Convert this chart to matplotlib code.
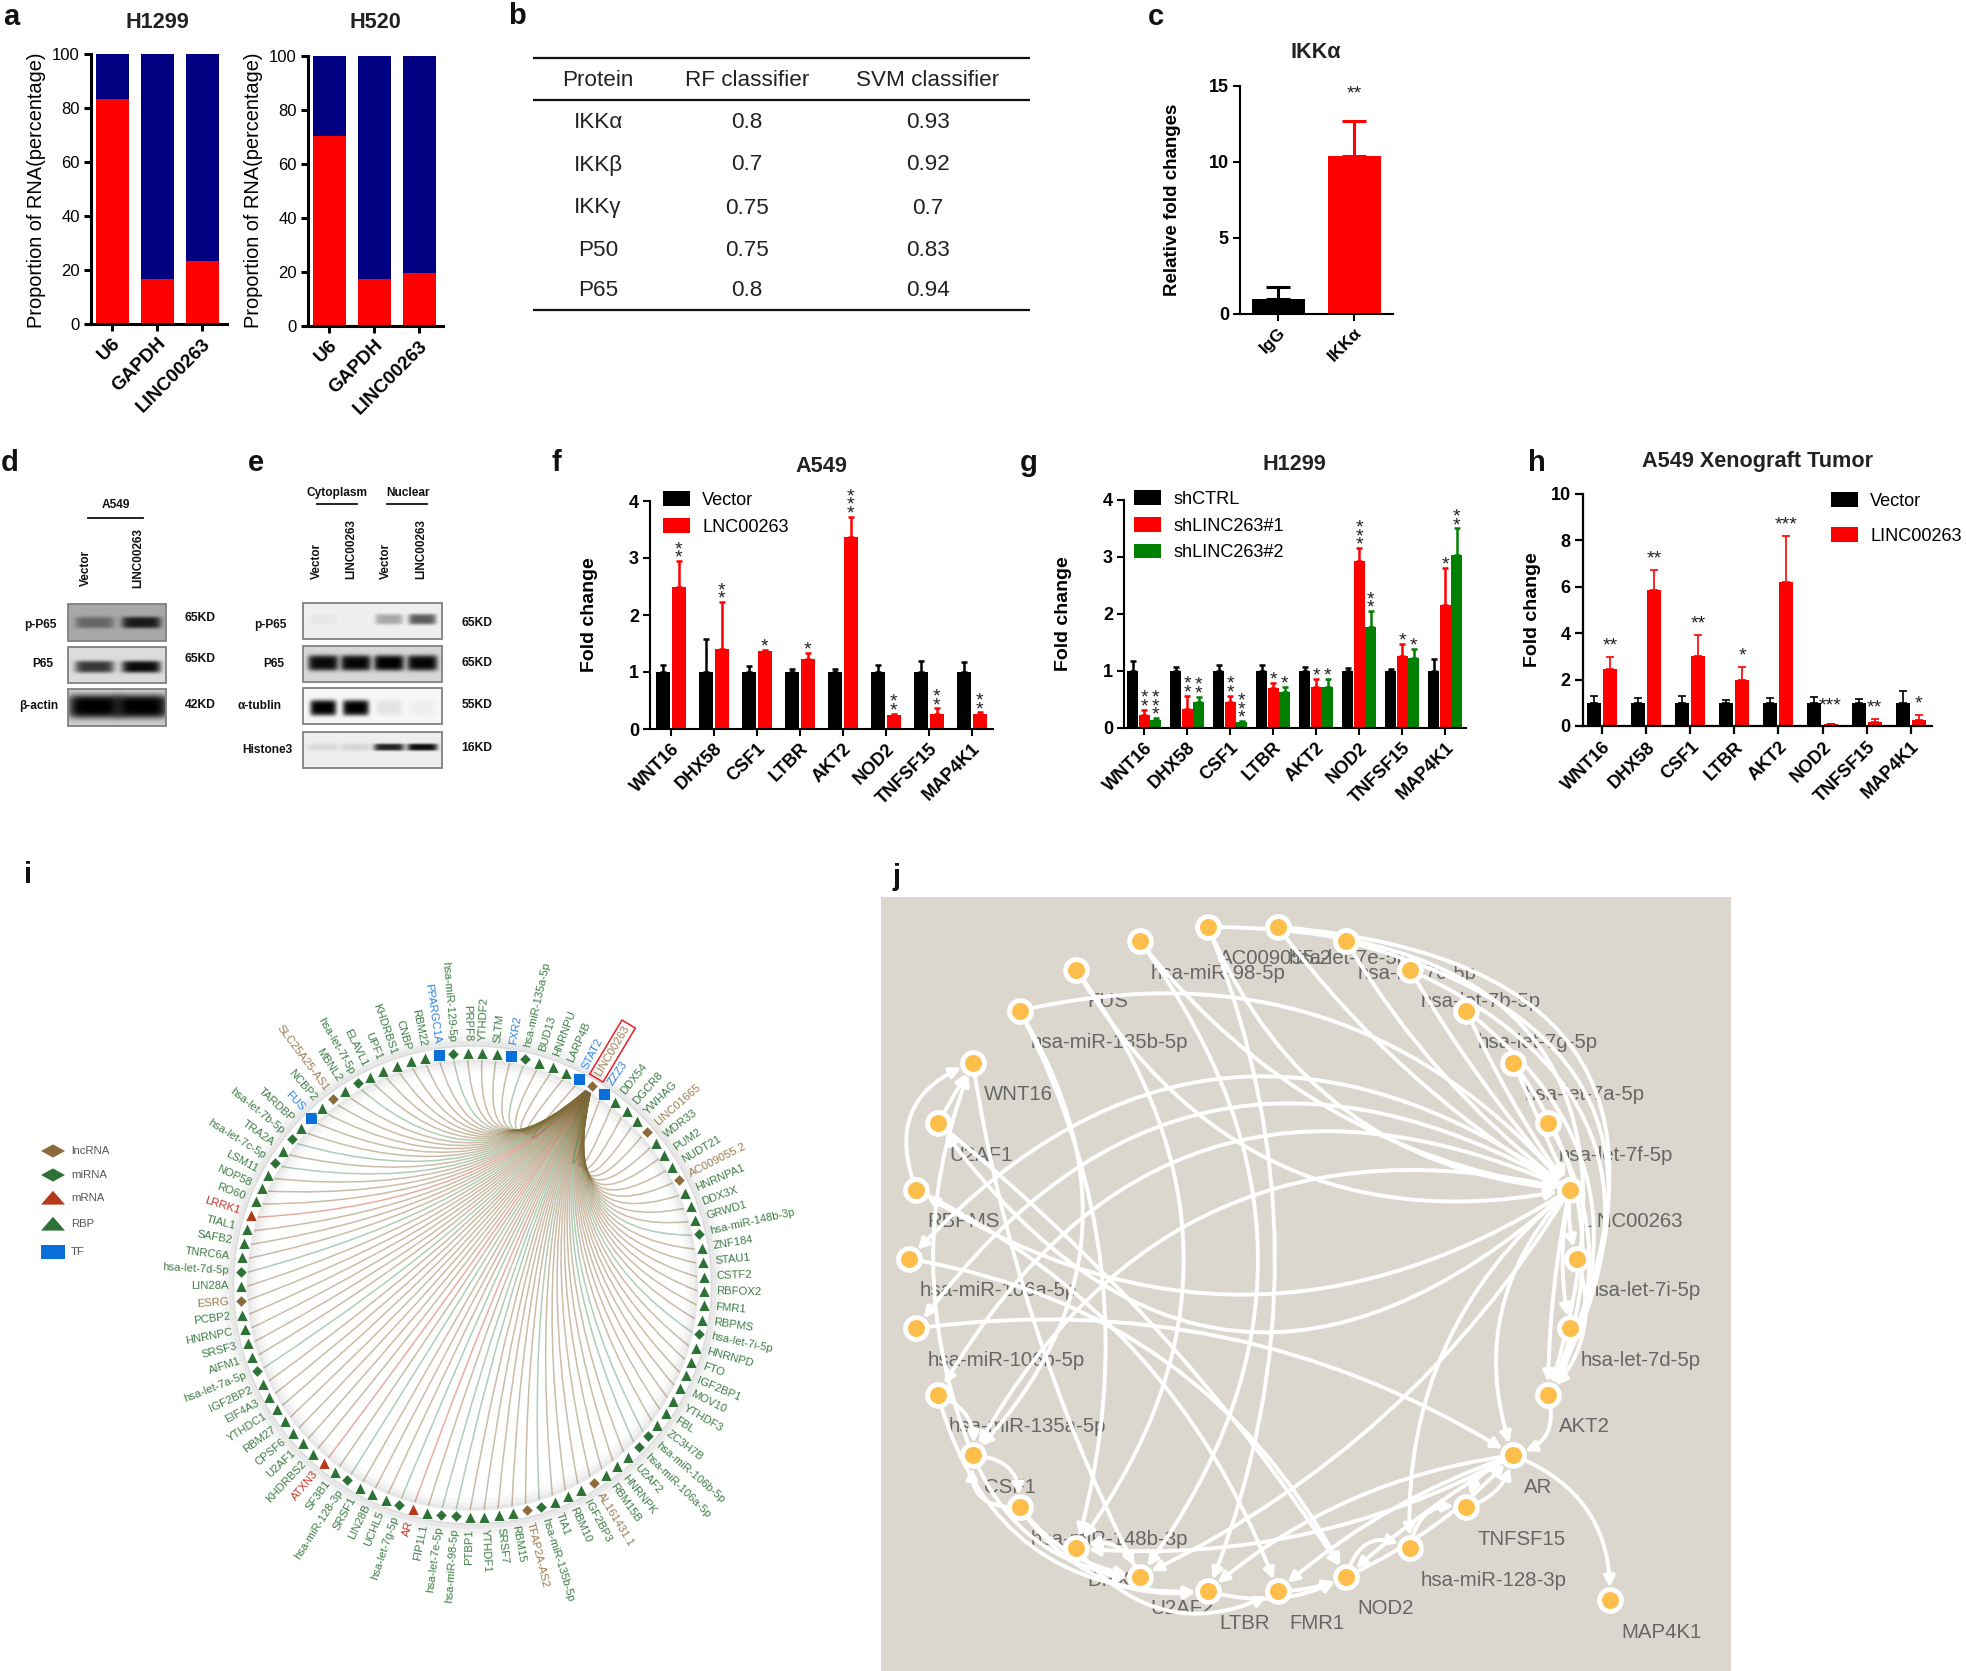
import numpy as np
import matplotlib
matplotlib.use('Agg')
import matplotlib.pyplot as plt
from matplotlib.path import Path
from matplotlib.patches import PathPatch, FancyArrowPatch, Circle, Rectangle

plt.rcParams['font.family'] = ['Liberation Sans', 'DejaVu Sans']

W, H = 1966, 1671

# panel a
a_cats = ['U6', 'GAPDH', 'LINC00263']
a_h1299 = [83.5, 16.5, 23.5]
a_h520 = [70.5, 17.5, 19.5]

# panel b
b_cols = ['Protein', 'RF classifier', 'SVM classifier']
b_protein = ['IKKα', 'IKKβ', 'IKKγ', 'P50', 'P65']
b_rf = ['0.8', '0.7', '0.75', '0.75', '0.8']
b_svm = ['0.93', '0.92', '0.7', '0.83', '0.94']

# panel c
c_cats = ['IgG', 'IKKα']
c_vals = [1.0, 10.4]
c_tops = [1.8, 12.7]

# blots, band strength per lane
d_pp65 = [0.4, 0.85]
d_p65 = [0.75, 0.95]
d_actin = [1.0, 1.0]
e_pp65 = [0.04, 0.01, 0.3, 0.62]
e_p65 = [0.95, 0.97, 1.0, 0.97]
e_tub = [1.0, 1.0, 0.08, 0.04]
e_h3 = [0.08, 0.1, 0.85, 0.95]

# panels f g h
genes = ['WNT16', 'DHX58', 'CSF1', 'LTBR', 'AKT2', 'NOD2', 'TNFSF15', 'MAP4K1']
f_vec = [1, 1, 1, 1, 1, 1, 1, 1]
f_vec_top = [1.13, 1.58, 1.1, 1.06, 1.06, 1.13, 1.19, 1.17]
f_lnc = [2.5, 1.4, 1.36, 1.22, 3.37, 0.24, 0.27, 0.26]
f_lnc_top = [2.94, 2.22, 1.38, 1.33, 3.72, 0.27, 0.36, 0.29]
f_stars = [2, 2, 1, 1, 3, 2, 2, 2]

g_ctl = [1, 1, 1, 1, 1, 1, 1, 1]
g_ctl_top = [1.17, 1.07, 1.11, 1.1, 1.07, 1.05, 1.03, 1.21]
g_sh1 = [0.23, 0.33, 0.46, 0.7, 0.72, 2.93, 1.26, 2.15]
g_sh1_top = [0.32, 0.57, 0.57, 0.79, 0.86, 3.15, 1.48, 2.8]
g_sh2 = [0.14, 0.46, 0.1, 0.64, 0.72, 1.78, 1.22, 3.03]
g_sh2_top = [0.17, 0.55, 0.12, 0.72, 0.86, 2.05, 1.39, 3.5]
g_stars1 = [2, 2, 2, 1, 1, 3, 1, 1]
g_stars2 = [3, 2, 3, 1, 1, 2, 1, 2]

h_vec = [1, 1, 1, 1, 1, 1, 1, 1]
h_vec_top = [1.3, 1.2, 1.28, 1.13, 1.2, 1.25, 1.15, 1.5]
h_lnc = [2.45, 5.85, 3.0, 2.0, 6.2, 0.08, 0.17, 0.28]
h_lnc_top = [2.97, 6.72, 3.92, 2.55, 8.17, 0.1, 0.3, 0.47]
h_stars = ['**', '**', '**', '*', '***', '***', '**', '*']

# panel i, clockwise from LINC00263
i_nodes = ['LINC00263', 'ZZZ3', 'DDX54', 'DGCR8', 'YWHAG', 'LINC01665', 'WDR33', 'PUM2', 'NUDT21',
           'AC009055.2', 'HNRNPA1', 'DDX3X', 'GRWD1', 'hsa-miR-148b-3p', 'ZNF184', 'STAU1', 'CSTF2',
           'RBFOX2', 'FMR1', 'RBPMS', 'hsa-let-7i-5p', 'HNRNPD', 'FTO', 'IGF2BP1', 'MOV10', 'YTHDF3',
           'FBL', 'ZC3H7B', 'hsa-miR-106b-5p', 'hsa-miR-106a-5p', 'U2AF2', 'HNRNPK', 'RBM15B',
           'AL161431.1', 'IGF2BP3', 'RBM10', 'TIA1', 'hsa-miR-135b-5p', 'TFAP2A-AS2', 'RBM15', 'SRSF7',
           'YTHDF1', 'PTBP1', 'hsa-miR-98-5p', 'hsa-let-7e-5p', 'FIP1L1', 'AR', 'hsa-let-7g-5p', 'UCHL5',
           'LIN28B', 'SRSF1', 'hsa-miR-128-3p', 'SF3B1', 'ATXN3', 'KHDRBS2', 'U2AF1', 'CPSF6', 'RBM27',
           'YTHDC1', 'EIF4A3', 'IGF2BP2', 'hsa-let-7a-5p', 'AIFM1', 'SRSF3', 'HNRNPC', 'PCBP2', 'ESRG',
           'LIN28A', 'hsa-let-7d-5p', 'TNRC6A', 'SAFB2', 'TIAL1', 'LRRK1', 'RO60', 'NOP58', 'LSM11',
           'hsa-let-7c-5p', 'TRA2A', 'hsa-let-7b-5p', 'TARDBP', 'FUS', 'NCBP2', 'SLC25A25-AS1', 'MBNL2',
           'hsa-let-7f-5p', 'ELAVL1', 'UPF1', 'KHDRBS1', 'CNBP', 'RBM22', 'PPARGC1A', 'hsa-miR-129-5p',
           'PRPF8', 'YTHDF2', 'SLTM', 'FXR2', 'hsa-miR-135a-5p', 'BUD13', 'HNRNPU', 'LARP4B', 'STAT2']
i_lnc = ['LINC00263', 'LINC01665', 'AC009055.2', 'AL161431.1', 'TFAP2A-AS2', 'ESRG', 'SLC25A25-AS1']
i_mrna = ['AR', 'ATXN3', 'LRRK1']
i_tf = ['ZZZ3', 'FUS', 'PPARGC1A', 'FXR2', 'STAT2']
i_legend = ['lncRNA', 'miRNA', 'mRNA', 'RBP', 'TF']

# panel j, clockwise from the right
j_nodes = ['hsa-let-7i-5p', 'hsa-let-7d-5p', 'AKT2', 'AR', 'TNFSF15', 'hsa-miR-128-3p', 'NOD2', 'FMR1',
           'LTBR', 'U2AF2', 'DHX58', 'hsa-miR-148b-3p', 'CSF1', 'hsa-miR-135a-5p', 'hsa-miR-106b-5p',
           'hsa-miR-106a-5p', 'RBPMS', 'U2AF1', 'WNT16', 'hsa-miR-135b-5p', 'FUS', 'hsa-miR-98-5p',
           'AC009055.2', 'hsa-let-7e-5p', 'hsa-let-7c-5p', 'hsa-let-7b-5p', 'hsa-let-7g-5p',
           'hsa-let-7a-5p', 'hsa-let-7f-5p', 'LINC00263']
j_edges = [('U2AF1', 'WNT16', 0), ('RBPMS', 'WNT16', -0.5), ('CSF1', 'WNT16', -0.2),
           ('WNT16', 'U2AF2', 0.08), ('U2AF1', 'NOD2', -0.08), ('RBPMS', 'FMR1', -0.2),
           ('hsa-miR-106a-5p', 'NOD2', -0.25), ('hsa-miR-106b-5p', 'AR', -0.18),
           ('hsa-miR-135a-5p', 'CSF1', -0.4), ('LINC00263', 'hsa-miR-106a-5p', 0.44),
           ('LINC00263', 'hsa-miR-106b-5p', 0.45), ('LINC00263', 'hsa-miR-135a-5p', 0.45),
           ('LINC00263', 'CSF1', 0.38), ('LINC00263', 'RBPMS', -0.32), ('LINC00263', 'U2AF1', -0.55),
           ('FUS', 'LINC00263', 0.35), ('hsa-miR-135b-5p', 'LINC00263', -0.3),
           ('hsa-miR-98-5p', 'LINC00263', 0.2), ('AC009055.2', 'LINC00263', 0.3),
           ('hsa-let-7e-5p', 'LINC00263', 0.1), ('hsa-let-7c-5p', 'LINC00263', 0.1),
           ('hsa-let-7b-5p', 'LINC00263', 0.05), ('hsa-let-7g-5p', 'LINC00263', 0.05),
           ('hsa-let-7a-5p', 'LINC00263', 0), ('LINC00263', 'hsa-let-7i-5p', 0.1),
           ('LINC00263', 'hsa-let-7d-5p', 0.1), ('hsa-let-7e-5p', 'AKT2', -0.72),
           ('hsa-let-7c-5p', 'AKT2', -0.63), ('hsa-let-7b-5p', 'AKT2', -0.54),
           ('hsa-let-7g-5p', 'AKT2', -0.42), ('hsa-let-7a-5p', 'AKT2', -0.3),
           ('hsa-let-7f-5p', 'AKT2', -0.3), ('hsa-let-7i-5p', 'AKT2', -0.3),
           ('hsa-let-7d-5p', 'AKT2', -0.2), ('AC009055.2', 'AKT2', -0.68),
           ('LINC00263', 'AKT2', 0.05), ('LINC00263', 'AR', 0.3), ('LINC00263', 'hsa-miR-128-3p', 0.25),
           ('LINC00263', 'U2AF2', -0.15), ('hsa-miR-98-5p', 'U2AF2', -0.37),
           ('AC009055.2', 'LTBR', -0.2), ('FUS', 'DHX58', -0.37), ('hsa-miR-135b-5p', 'DHX58', -0.2),
           ('hsa-miR-135b-5p', 'CSF1', -0.38),
           ('AR', 'MAP4K1', -0.35), ('AKT2', 'AR', -0.5), ('AR', 'TNFSF15', 0.3),
           ('hsa-miR-128-3p', 'TNFSF15', -0.5), ('TNFSF15', 'AR', 0.3), ('NOD2', 'AR', 0.1),
           ('NOD2', 'hsa-miR-128-3p', -0.6), ('AR', 'NOD2', 0.05), ('AR', 'FMR1', 0.1),
           ('AR', 'LTBR', 0.15), ('FMR1', 'NOD2', 0.1), ('LTBR', 'NOD2', 0.2),
           ('U2AF2', 'DHX58', 0.5), ('DHX58', 'U2AF2', 0.3), ('hsa-miR-148b-3p', 'U2AF2', 0.2),
           ('CSF1', 'hsa-miR-148b-3p', -0.5), ('hsa-miR-148b-3p', 'CSF1', -0.6),
           ('hsa-miR-135a-5p', 'LTBR', 0.4), ('CSF1', 'U2AF2', 0.3), ('DHX58', 'FMR1', 0.4),
           ('hsa-miR-148b-3p', 'LTBR', 0.3), ('AR', 'DHX58', -0.15)]


def px_axes(left, bottom, right, top):
    ax = fig.add_axes([left / W, 1 - bottom / H, (right - left) / W, (bottom - top) / H])
    ax.patch.set_alpha(0)
    ax.spines[['top', 'right']].set_visible(False)
    return ax


def style_axes(ax, lw, ticklen, size, weight, t0, dt, left, right):
    ax.set_xlim((left - t0) / dt, (right - t0) / dt)
    ax.spines[['left', 'bottom']].set_linewidth(lw)
    ax.tick_params(width=lw, length=ticklen, labelsize=size, pad=3)
    for t in ax.get_yticklabels():
        t.set_fontweight(weight)


def rot_labels(ax, labels, size, weight='normal'):
    ax.set_xticks(range(len(labels)))
    ax.set_xticklabels(labels, rotation=45, ha='right', rotation_mode='anchor',
                       fontsize=size, fontweight=weight)


def ylabel_at(ax, text, x_px, y_px, size, weight='normal'):
    box = ax.get_position()
    ax.set_ylabel(text, fontsize=size, fontweight=weight)
    ax.yaxis.set_label_coords((x_px / W - box.x0) / box.width, (1 - y_px / H - box.y0) / box.height)


def stack_stars(ax, x, top, n, first=3, step=8.5):
    for k in range(n):
        ax.annotate('*', xy=(x, top), xytext=(0, first + k * step), textcoords='offset pixels',
                    ha='center', va='center', fontsize=14, color='#222222')


def add_bars(ax, x, vals, tops, color, width, lw=1.8, cap=2.2):
    ax.bar(x, vals, width, color=color, linewidth=0)
    ax.errorbar(x, vals, yerr=[np.zeros(len(vals)), np.array(tops) - np.array(vals)], fmt='none',
                ecolor=color, elinewidth=lw, capsize=cap, capthick=lw)


def add_legend(ax, handles, labels, x_px, y_px, spacing):
    ax.legend(handles, labels, loc='upper left', bbox_to_anchor=(x_px / W, 1 - y_px / H),
              bbox_transform=fig.transFigure, frameon=False, fontsize=13.1, borderpad=0, borderaxespad=0,
              handlelength=1.5, handleheight=0.88, handletextpad=0.66, labelspacing=spacing)


fig = plt.figure(figsize=(W / 100, H / 100), dpi=100, facecolor='white')
over = fig.add_axes([0, 0, 1, 1])
over.set_xlim(0, W)
over.set_ylim(H, 0)
over.set_autoscale_on(False)
over.axis('off')

# panel letters
letters = ['a', 'b', 'c', 'd', 'e', 'f', 'g', 'h', 'i', 'j']
letter_x = [3, 508, 1148, 1, 248, 551, 1020, 1528, 24, 893]
letter_y = [17, 16, 17, 463, 463, 463, 463, 463, 875, 877]
for s, x, y in zip(letters, letter_x, letter_y):
    over.text(x, y, s, fontsize=21, fontweight='bold', ha='left', va='center', color='#111111')

titles = ['H1299', 'H520', 'IKKα', 'A549', 'H1299', 'A549 Xenograft Tumor']
title_x = [157, 375, 1316, 821, 1294, 1758]
title_y = [22, 23, 52, 466, 465, 461]
for s, x, y in zip(titles, title_x, title_y):
    over.text(x, y, s, fontsize=15.6, fontweight='bold', ha='center', va='center', color='#222222')

# panel a
for vals, box, lab_x in [(a_h1299, (91, 324, 227, 54), 46), (a_h520, (308, 326, 443, 56), 263)]:
    ax = px_axes(*box)
    ax.bar(range(3), [100, 100, 100], 33 / 45, color='#000080', linewidth=0)
    ax.bar(range(3), vals, 33 / 45, color='#ff0000', linewidth=0)
    ax.set_ylim(0, 100)
    ax.set_yticks(range(0, 101, 20))
    style_axes(ax, 2.2, 5, 12, 'normal', box[0] + 21, 45, box[0], box[2])
    rot_labels(ax, a_cats, 13.6, 'bold')
    ylabel_at(ax, 'Proportion of RNA(percentage)', lab_x, 190, 14.4)

# panel b
for y in [58, 100, 310]:
    over.plot([533, 1030], [y, y], color='#111111', lw=1.6, solid_capstyle='butt')
col_x = [598, 747, 928]
row_y = [123, 165, 208, 250, 291]
for s, x in zip(b_cols, col_x):
    over.text(x, 81, s, fontsize=16.2, ha='center', va='center', color='#222222')
for col, x in zip([b_protein, b_rf, b_svm], col_x):
    for s, y in zip(col, row_y):
        over.text(x, y, s, fontsize=16.2, ha='center', va='center', color='#222222')

# panel c
ax = px_axes(1240, 314, 1393, 86)
add_bars(ax, [0], c_vals[:1], c_tops[:1], 'black', 53 / 76.3, lw=2.2, cap=8.4)
add_bars(ax, [1], c_vals[1:], c_tops[1:], '#ff0000', 53 / 76.3, lw=2.2, cap=8.4)
ax.set_ylim(0, 15)
ax.set_yticks([0, 5, 10, 15])
style_axes(ax, 1.5, 5, 13, 'bold', 1278, 76.3, 1240, 1393)
rot_labels(ax, c_cats, 12.5, 'bold')
ylabel_at(ax, 'Relative fold changes', 1181, 200, 13.5, 'bold')
ax.text(1, 14.5, '**', ha='center', va='center', fontsize=14, color='#222222')


# blots
def blot(box, bg, levels, lanes, hw, ht, yc=0.5):
    x0, y0, x1, y1 = box
    w, h = x1 - x0, y1 - y0
    xx, yy = np.meshgrid(np.linspace(0, 1, w * 2), np.linspace(0, 1, h * 2))
    img = np.ones_like(xx)
    for lev, lane in zip(levels, lanes):
        img *= 1 - lev * np.exp(-((xx - lane) / hw) ** 6) * np.exp(-((yy - yc) / ht) ** 4)
    over.imshow(img * bg, extent=(x0, x1, y1, y0), cmap='gray', vmin=0, vmax=1, aspect='auto',
                interpolation='bilinear', zorder=1)
    over.add_patch(Rectangle((x0, y0), w, h, fill=False, ec='#808080', lw=1.3, zorder=2))


lanes_d = [0.27, 0.75]
lanes_e = [0.145, 0.38, 0.62, 0.86]
blot((68, 604, 166, 641), 0.66, d_pp65, lanes_d, 0.2, 0.16, 0.5)
blot((68, 647, 166, 683), 0.86, d_p65, lanes_d, 0.2, 0.17, 0.55)
blot((68, 689, 166, 726), 0.8, d_actin, lanes_d, 0.27, 0.32, 0.47)
blot((303, 603, 442, 639), 0.94, e_pp65, lanes_e, 0.1, 0.15, 0.45)
blot((303, 646, 442, 682), 0.84, e_p65, lanes_e, 0.11, 0.22, 0.47)
blot((303, 688, 442, 724), 0.97, e_tub, lanes_e, 0.095, 0.22, 0.55)
blot((303, 732, 442, 768), 0.93, e_h3, lanes_e, 0.11, 0.1, 0.42)

blot_text = ['p-P65', 'P65', 'β-actin', 'p-P65', 'P65', 'α-tublin', 'Histone3']
blot_tx = [40, 43, 39, 270, 274, 260, 267]
blot_ty = [625, 664, 706, 625, 664, 706, 750]
kd_text = ['65KD', '65KD', '42KD', '65KD', '65KD', '55KD', '16KD']
kd_tx = [200, 200, 200, 477, 477, 477, 477]
kd_ty = [618, 659, 705, 623, 663, 705, 748]
for s, x, y in zip(blot_text, blot_tx, blot_ty):
    over.text(x, y, s, fontsize=8.6, fontweight='bold', ha='center', va='center', color='#111111')
for s, x, y in zip(kd_text, kd_tx, kd_ty):
    over.text(x, y, s, fontsize=8.7, fontweight='bold', ha='center', va='center', color='#111111')
for s, x, y in [('A549', 116, 505), ('Cytoplasm', 337, 493), ('Nuclear', 408, 493)]:
    over.text(x, y, s, fontsize=8.6, fontweight='bold', ha='center', va='center', color='#111111')
for xs, y in [((88, 143), 518), ((317, 357), 504), ((387, 427), 504)]:
    over.plot(xs, [y, y], color='#111111', lw=1.3)
for s, x, y in [('Vector', 86, 586), ('LINC00263', 138, 588), ('Vector', 317, 579), ('LINC00263', 351, 579),
                ('Vector', 386, 579), ('LINC00263', 421, 579)]:
    over.text(x, y, s, fontsize=8.5, fontweight='bold', rotation=90, ha='center', va='bottom', color='#111111')

# panel f
ax = px_axes(650, 729, 993, 501)
x = np.arange(8)
add_bars(ax, x - 8 / 43, f_vec, f_vec_top, 'black', 14 / 43)
add_bars(ax, x + 8 / 43, f_lnc, f_lnc_top, '#ff0000', 14 / 43)
for i in x:
    stack_stars(ax, i + 8 / 43, f_lnc_top[i], f_stars[i])
ax.set_ylim(0, 4)
ax.set_yticks(range(5))
style_axes(ax, 1.5, 5, 13, 'bold', 670.7, 43, 650, 993)
rot_labels(ax, genes, 13, 'bold')
ylabel_at(ax, 'Fold change', 598, 615, 14, 'bold')
hs = [Rectangle((0, 0), 1, 1, fc=c) for c in ['black', '#ff0000']]
add_legend(ax, hs, ['Vector', 'LNC00263'], 663, 491, 0.5)

# panel g
ax = px_axes(1124, 728, 1466, 500)
add_bars(ax, x - 11.5 / 43, g_ctl, g_ctl_top, 'black', 11 / 43)
add_bars(ax, x, g_sh1, g_sh1_top, '#ff0000', 11 / 43)
add_bars(ax, x + 11.5 / 43, g_sh2, g_sh2_top, '#008000', 11 / 43)
for i in x:
    stack_stars(ax, i, g_sh1_top[i], g_stars1[i])
    stack_stars(ax, i + 11.5 / 43, g_sh2_top[i], g_stars2[i])
ax.set_ylim(0, 4)
ax.set_yticks(range(5))
style_axes(ax, 1.5, 5, 13, 'bold', 1144, 43, 1124, 1466)
rot_labels(ax, genes, 13, 'bold')
ylabel_at(ax, 'Fold change', 1072, 614, 14, 'bold')
hs = [Rectangle((0, 0), 1, 1, fc=c) for c in ['black', '#ff0000', '#008000']]
add_legend(ax, hs, ['shCTRL', 'shLINC263#1', 'shLINC263#2'], 1134, 490, 0.5)

# panel h
ax = px_axes(1583, 726, 1932, 494)
add_bars(ax, x - 8 / 44, h_vec, h_vec_top, 'black', 14 / 44, lw=1.2, cap=2.6)
add_bars(ax, x + 8 / 44, h_lnc, h_lnc_top, '#ff0000', 14 / 44, lw=1.2, cap=2.6)
for i in x:
    off = 18 if h_lnc_top[i] < 0.2 else 11
    ax.annotate(h_stars[i], xy=(i + 8 / 44, h_lnc_top[i]), xytext=(0, off), textcoords='offset pixels',
                ha='center', va='center', fontsize=14, color='#222222')
ax.set_ylim(0, 10)
ax.set_yticks(range(0, 11, 2))
style_axes(ax, 1.6, 6, 13, 'bold', 1602, 44.1, 1583, 1932)
rot_labels(ax, genes, 13, 'bold')
ylabel_at(ax, 'Fold change', 1541, 610, 14, 'bold')
hs = [Rectangle((0, 0), 1, 1, fc=c) for c in ['black', '#ff0000']]
add_legend(ax, hs, ['Vector', 'LINC00263'], 1831, 492, 0.95)

# panel i
cx, cy, rad = 472.5, 1285, 232
n = len(i_nodes)
start = np.deg2rad(59.1)
step = 2 * np.pi / n
ang = start - step * np.arange(n)
nx = cx + rad * np.cos(ang)
ny = cy - rad * np.sin(ang)
lx, ly = nx[0], ny[0]
axis_ang = np.arctan2(cy - ly, cx - lx)


def node_kind(name):
    if name in i_lnc:
        return 'lnc'
    if name in i_mrna:
        return 'mrna'
    if name in i_tf:
        return 'tf'
    if name.startswith('hsa-'):
        return 'mir'
    return 'rbp'


edge_col = {'lnc': '#8b6b3a', 'mrna': '#c8301a', 'tf': '#8b6b3a', 'mir': '#2e7d40', 'rbp': '#8b6b3a'}
edge_a = {'lnc': 0.45, 'mrna': 0.4, 'tf': 0.45, 'mir': 0.38, 'rbp': 0.45}
mark_col = {'lnc': '#8b6b3a', 'mrna': '#b5391a', 'tf': '#0a6fd8', 'mir': '#2e7136', 'rbp': '#2e7136'}
text_col = {'lnc': '#9c7b4f', 'mrna': '#c0392b', 'tf': '#2e86e0', 'mir': '#3d7d45', 'rbp': '#3d7d45'}
mark_sym = {'lnc': 'D', 'mrna': '^', 'tf': 's', 'mir': 'D', 'rbp': '^'}
mark_size = {'lnc': 36, 'mrna': 72, 'tf': 74, 'mir': 36, 'rbp': 72}

for k in range(1, n):
    kind = node_kind(i_nodes[k])
    ex = cx + (rad - 7) * np.cos(ang[k])
    ey = cy - (rad - 7) * np.sin(ang[k])
    chord = np.arctan2(ey - ly, ex - lx)
    diff = (chord - axis_ang + np.pi) % (2 * np.pi) - np.pi
    cang = axis_ang + 0.25 * diff
    ctrl = (lx + 153 * np.cos(cang), ly + 153 * np.sin(cang))
    path = Path([(lx, ly), ctrl, (ex, ey)], [Path.MOVETO, Path.CURVE3, Path.CURVE3])
    over.add_patch(PathPatch(path, fc='none', ec=edge_col[kind], alpha=edge_a[kind], lw=1.1, zorder=2))

for lw, al in [(28, 0.03), (22, 0.04), (16, 0.06), (10, 0.08)]:
    over.add_patch(Circle((cx, cy), rad + 1, fill=False, ec='#555555', lw=lw, alpha=al, zorder=3))
over.add_patch(Circle((cx, cy), rad, fill=False, ec='white', lw=9, zorder=3))

for k, name in enumerate(i_nodes):
    kind = node_kind(name)
    over.scatter(nx[k], ny[k], s=mark_size[kind], marker=mark_sym[kind], color=mark_col[kind],
                 edgecolors='white', linewidths=0.6, zorder=4)
    deg = np.rad2deg(ang[k])
    right = np.cos(ang[k]) >= 0
    tx = cx + (rad + 12) * np.cos(ang[k])
    ty = cy - (rad + 12) * np.sin(ang[k])
    box = dict(boxstyle='square,pad=0.25', fc='none', ec='#ee1c25', lw=1.1) if k == 0 else None
    over.text(tx, ty, name, fontsize=8.1, color=text_col[kind], rotation=deg if right else deg + 180,
              ha='left' if right else 'right', va='center', rotation_mode='anchor', bbox=box, zorder=5)

leg_y = [1151, 1175, 1198, 1224, 1252]
leg_col = ['#8b6b3a', '#2e7136', '#b5391a', '#2e7136', '#0a6fd8']
leg_shape = [[(-1, 0), (0, -0.55), (1, 0), (0, 0.55)], [(-1, 0), (0, -0.55), (1, 0), (0, 0.55)],
             [(-1, 0.55), (0, -0.6), (1, 0.55)], [(-1, 0.55), (0, -0.6), (1, 0.55)],
             [(-1, -0.55), (1, -0.55), (1, 0.55), (-1, 0.55)]]
for s, y, c, shape in zip(i_legend, leg_y, leg_col, leg_shape):
    over.fill([53 + 12 * p[0] for p in shape], [y + 12 * p[1] for p in shape], color=c, lw=0)
    over.text(71, y, s, fontsize=8.2, color='#555555', ha='left', va='center')

# panel j
over.add_patch(Rectangle((881, 897), 850, 774, fc='#dbd7cf', ec='none', zorder=0))
jx, jy, jr = 1243, 1259, 334
t = np.deg2rad(12 * np.arange(len(j_nodes)))
pos = {name: (jx + jr * np.cos(a), jy + jr * np.sin(a)) for name, a in zip(j_nodes, t)}
pos['MAP4K1'] = (1610, 1600)
for name, p in pos.items():
    over.text(p[0] + 11, p[1] + 32, name, fontsize=14.7, color='#666666', ha='left', va='center', zorder=1)
for a, b, r in j_edges:
    over.add_patch(FancyArrowPatch(pos[a], pos[b], connectionstyle=f'arc3,rad={r}', arrowstyle='-|>',
                                   mutation_scale=16, color='white', lw=2.8, shrinkA=6, shrinkB=9, zorder=2))
px = [p[0] for p in pos.values()]
py = [p[1] for p in pos.values()]
over.scatter(px, py, s=370, color='white', linewidths=0, zorder=3)
over.scatter(px, py, s=150, color='#fdbe4b', linewidths=0, zorder=4)

fig.savefig('out.png', dpi=100)
